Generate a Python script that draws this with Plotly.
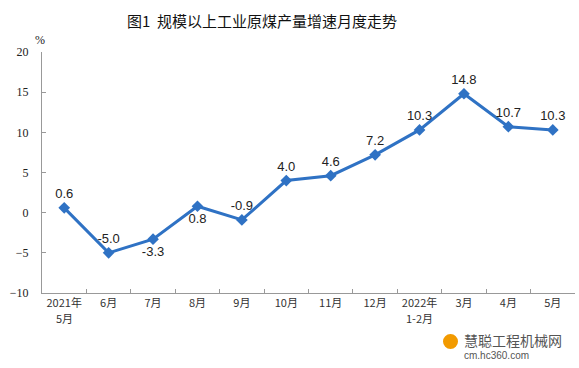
import plotly.graph_objects as go

categories = ["2021年 5月", "6月", "7月", "8月", "9月", "10月", "11月", "12月",
              "2022年 1-2月", "3月", "4月", "5月"]
tick_line1 = ["2021年", "6月", "7月", "8月", "9月", "10月", "11月", "12月",
              "2022年", "3月", "4月", "5月"]
tick_line2 = ["5月", "", "", "", "", "", "", "", "1-2月", "", "", ""]
values = [0.6, -5.0, -3.3, 0.8, -0.9, 4.0, 4.6, 7.2, 10.3, 14.8, 10.7, 10.3]
label_pos = ["top center", "top center", "bottom center", "bottom center", "top center",
             "top center", "top center", "top center", "top center", "top center",
             "top center", "top center"]
y_ticks = [-10, -5, 0, 5, 10, 15, 20]

fig = go.Figure()
fig.add_trace(go.Scatter(
    x=categories, y=values, mode="lines+markers+text",
    line=dict(color="#2F72C4", width=3),
    marker=dict(symbol="diamond", size=9, color="#2F72C4"),
    text=[f"{v:.1f}" for v in values], textposition=label_pos,
    textfont=dict(family="Liberation Sans, Arial", size=13, color="#222"),
    cliponaxis=False, showlegend=False, hoverinfo="skip",
))

fig.update_layout(
    width=579, height=368,
    margin=dict(l=42, r=4, t=52, b=75),
    paper_bgcolor="white", plot_bgcolor="white",
    title=dict(text="图1  规模以上工业原煤产量增速月度走势", x=262 / 579, xanchor="center",
               xref="container", yref="container",
               y=1 - 22 / 368, yanchor="middle",
               font=dict(family="Noto Sans CJK SC", size=15, color="#111")),
    xaxis=dict(type="category", tickson="boundaries", ticks="inside", ticklen=4,
               tickcolor="#999", showline=True, linecolor="#999", linewidth=1,
               showgrid=False, range=[-0.5, 11.5], automargin=False, tickangle=0,
               tickvals=categories, ticktext=tick_line1,
               tickfont=dict(family="Noto Sans CJK SC", size=11, color="#333")),
    yaxis=dict(range=[-10, 20], tickvals=y_ticks, ticks="inside", ticklen=4,
               tickcolor="#999", showline=True, linecolor="#999", linewidth=1,
               showgrid=False, zeroline=False, automargin=False, ticklabelstandoff=10,
               tickfont=dict(family="Liberation Serif", size=12, color="#222")),
)

for cat, t2 in zip(categories, tick_line2):
    if t2:
        fig.add_annotation(text=t2, x=cat, xref="x", yref="paper", y=-(318 - 293) / 241,
                           showarrow=False, xanchor="center", yanchor="middle",
                           font=dict(family="Noto Sans CJK SC", size=11, color="#333"))

fig.add_annotation(text="%", xref="paper", yref="paper", x=-0.003, y=1 + 12 / 241,
                   showarrow=False, xanchor="center", yanchor="middle",
                   font=dict(family="Liberation Serif", size=12, color="#222"))

# watermark
fig.add_shape(type="circle", xref="paper", yref="paper",
              x0=(443 - 42) / 533, x1=(458 - 42) / 533,
              y0=-(349 - 293) / 241, y1=-(334 - 293) / 241,
              fillcolor="#F29A00", line=dict(width=0))
fig.add_annotation(text="慧聪工程机械网", xref="paper", yref="paper",
                   x=(462 - 42) / 533, y=-(340 - 293) / 241, showarrow=False,
                   xanchor="left", yanchor="middle",
                   font=dict(family="Noto Sans CJK SC", size=14, color="#555"))
fig.add_annotation(text="cm.hc360.com", xref="paper", yref="paper",
                   x=(462 - 42) / 533, y=-(355 - 293) / 241, showarrow=False,
                   xanchor="left", yanchor="middle",
                   font=dict(family="Liberation Sans", size=10, color="#555"))

fig.write_html("out.html", config={"displayModeBar": False},
               post_script="document.body.style.margin='0';document.body.style.overflow='hidden';")
